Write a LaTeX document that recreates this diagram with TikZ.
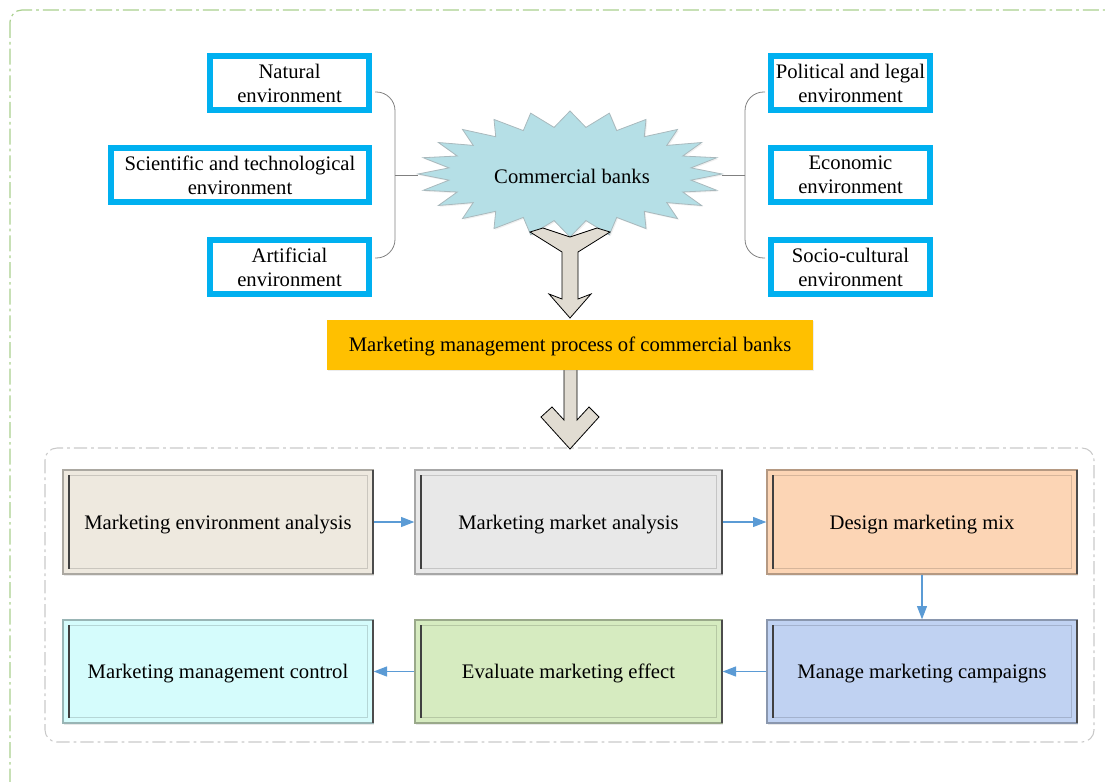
\documentclass[tikz,border=0pt]{standalone}
\usepackage{fontspec}
\setmainfont{Liberation Serif}
\usetikzlibrary{arrows.meta,calc,shadows}
\definecolor{cyanB}{HTML}{00B0F0}
\definecolor{starF}{HTML}{B5DFE6}
\definecolor{starD}{HTML}{A9B9BD}
\definecolor{orangeF}{HTML}{FFC000}
\definecolor{arrowF}{HTML}{E1DCD2}
\definecolor{flowB}{HTML}{5B9BD5}
\definecolor{frameG}{HTML}{A9D08E}
\definecolor{frameL}{HTML}{C9C9C9}
\definecolor{cA}{HTML}{EEE9DF}
\definecolor{cB}{HTML}{E8E8E8}
\definecolor{cC}{HTML}{FCD5B5}
\definecolor{cD}{HTML}{D5FCFC}
\definecolor{cE}{HTML}{D6EBC0}
\definecolor{cF}{HTML}{C0D2F2}
\newcommand\procbox[6]{%
  \node[procn, fill=#5, draw=#5!72!black, minimum width=#3, minimum height=#4] (#1) at #2 {\raisebox{-5.25pt}[0pt][0pt]{#6}};
  \draw[line width=0.5pt, draw=#5!85!black] ($(#1.north west)+(7,6)$) rectangle ($(#1.south east)+(-6,-6)$);
  \draw[line width=1.3pt, draw=black!75] ($(#1.north west)+(7,6)$) -- ($(#1.south west)+(7,-6)$);
  \draw[line width=1.3pt, draw=black!70] ($(#1.north east)+(-1,1)$) -- ($(#1.south east)+(-1,-1)$);
}
\begin{document}
\begin{tikzpicture}[x=0.75pt,y=-0.75pt,
  font=\fontsize{15.5}{18}\selectfont,
  envbox/.style={draw=cyanB, line width=4.5pt, fill=white, align=center, inner sep=0pt,
    minimum height=40.5pt, drop shadow={opacity=0.15,shadow xshift=1pt,shadow yshift=-1pt}},
  procn/.style={line width=1pt, align=center, inner sep=0pt,
    drop shadow={opacity=0.18,shadow xshift=1pt,shadow yshift=-1.5pt}},
  conn/.style={draw=black!50, line width=0.6pt},
  flow/.style={draw=flowB, line width=0.9pt, -{Triangle[length=10pt,width=7.5pt]}},
  blockarrow/.style={fill=arrowF, draw=black, line width=0.6pt, line join=miter},
]
\useasboundingbox (0,0) rectangle (1105,781);
% outer green frame
\draw[frameG, line width=0.9pt, rounded corners=9pt,
  dash pattern=on 12pt off 3pt on 2pt off 3pt] (10,10) rectangle (1125,800);
% lower gray frame
\draw[frameL, line width=0.8pt, rounded corners=9pt,
  dash pattern=on 10pt off 3pt on 2pt off 3pt] (45,448) rectangle (1094,742);

% starburst
\path[fill=starF, draw=starD, line width=0.6pt,
  drop shadow={opacity=0.12,shadow xshift=1pt,shadow yshift=-1pt}]
  (722,174) \foreach \i in {1,...,47}
  { -- ({570+(137+15*cos(\i*180))*cos(\i*7.5)},{174+(55+8*cos(\i*180))*sin(\i*7.5)}) } -- cycle;
\node[inner sep=0pt, minimum width=228pt, minimum height=60pt] (cb) at (572,176) {Commercial banks};

% environment boxes
\node[envbox, minimum width=119.25pt] (nat) at (289.5,83) {Natural\\environment};
\node[envbox, minimum width=193.5pt] (sci) at (240,175) {Scientific and technological\\environment};
\node[envbox, minimum width=119.25pt] (art) at (289.5,267) {Artificial\\environment};
\node[envbox, minimum width=119.25pt] (pol) at (850.5,83) {Political and legal\\environment};
\node[envbox, minimum width=119.25pt] (eco) at (850.5,175) {Economic\\environment};
\node[envbox, minimum width=119.25pt] (soc) at (850.5,267) {Socio-cultural\\environment};

% bracket connectors
\coordinate (lj) at (395,175);
\coordinate (rj) at (745,175);
\coordinate (cbl) at (418,175);
\coordinate (cbr) at (722,175);
\draw[conn, rounded corners=14pt] ($(nat.east)+(3,9)$) -| (lj) |- ($(art.east)+(3,-9)$);
\draw[conn] (lj) -- (cbl);
\draw[conn, rounded corners=14pt] ($(pol.west)+(-3,9)$) -| (rj) |- ($(soc.west)+(-3,-9)$);
\draw[conn] (rj) -- (cbr);

% block arrows
\draw[blockarrow] (530,232) -- (543,228) -- (570,237) -- (597,228) -- (610,232) -- (578,252)
  -- (578,299) -- (591,294) -- (570,318) -- (549,294) -- (562,299) -- (562,252) -- cycle;
\draw[blockarrow] (564,362) -- (577,362) -- (577,420) -- (589,407) -- (599,417) -- (570,449)
  -- (541,417) -- (552,407) -- (564,420) -- cycle;

% orange process box
\node[fill=orangeF, minimum width=364.5pt, minimum height=37.5pt, inner sep=0pt,
  drop shadow={opacity=0.15,shadow xshift=1pt,shadow yshift=-1pt}] (proc) at (570,345)
  {\raisebox{-4.5pt}[0pt][0pt]{Marketing management process of commercial banks}};

% process steps
\procbox{s1}{(218,522)}{232.5pt}{78pt}{cA}{Marketing environment analysis}
\procbox{s2}{(568.5,522)}{230.25pt}{78pt}{cB}{Marketing market analysis}
\procbox{s3}{(922,522)}{232.5pt}{78pt}{cC}{Design marketing mix}
\procbox{s4}{(218,671.5)}{232.5pt}{77.25pt}{cD}{Marketing management control}
\procbox{s5}{(568.5,671.5)}{230.25pt}{77.25pt}{cE}{Evaluate marketing effect}
\procbox{s6}{(922,671.5)}{232.5pt}{77.25pt}{cF}{Manage marketing campaigns}

\draw[flow] (s1.east) -- (s2.west);
\draw[flow] (s2.east) -- (s3.west);
\draw[flow] (s3.south) -- (s6.north);
\draw[flow] (s6.west) -- (s5.east);
\draw[flow] (s5.west) -- (s4.east);
\end{tikzpicture}
\end{document}
